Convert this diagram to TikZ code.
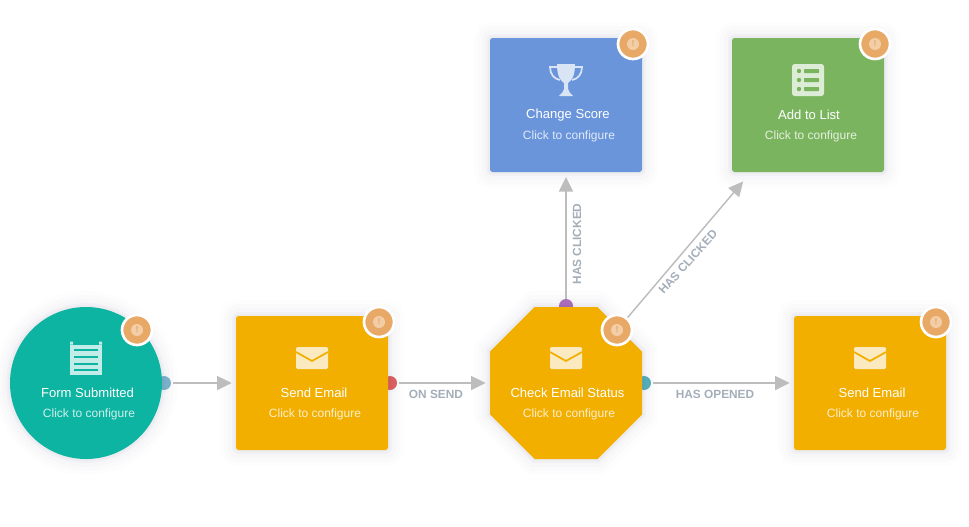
\documentclass[tikz,border=0pt]{standalone}
\usepackage{fontspec}
\setmainfont{Liberation Sans}
\usetikzlibrary{arrows.meta,shapes.geometric}
\definecolor{tealc}{HTML}{0CB4A1}
\definecolor{amberc}{HTML}{F2AF00}
\definecolor{bluec}{HTML}{6A95DB}
\definecolor{greenc}{HTML}{7BB45F}
\definecolor{badgec}{HTML}{E8A866}
\definecolor{badgein}{HTML}{F2CDA6}
\definecolor{linec}{HTML}{BDBDBD}
\definecolor{labc}{HTML}{A3AEB9}
\definecolor{shc}{HTML}{50507A}
\tikzset{
  soft/.style={
    preaction={draw=shc,draw opacity=.012,line width=24pt},
    preaction={draw=shc,draw opacity=.016,line width=18pt},
    preaction={draw=shc,draw opacity=.02,line width=12pt},
    preaction={draw=shc,draw opacity=.03,line width=6pt},
    preaction={draw=shc,draw opacity=.04,line width=3pt}},
  boxnode/.style={rectangle,rounded corners=2pt,minimum width=114pt,minimum height=100.5pt,inner sep=0pt,soft},
  roundnode/.style={circle,minimum size=114pt,inner sep=0pt,soft},
  octnode/.style={regular polygon,regular polygon sides=8,minimum size=123.4pt,inner sep=0pt,soft},
  badge/.style={circle,fill=badgec,draw=white,line width=2pt,minimum size=22.5pt,inner sep=0pt},
  badgemark/.style={circle,fill=badgein,minimum size=9pt,inner sep=0pt,text=badgec,font=\fontsize{6.5}{7}\selectfont\bfseries},
  dot/.style={circle,minimum size=10.5pt,inner sep=0pt},
  title/.style={text=white,inner sep=0pt,font=\fontsize{9.8}{11}\selectfont},
  subtitle/.style={text=white,text opacity=.8,inner sep=0pt,font=\fontsize{9}{10}\selectfont},
  conn/.style={draw=linec,line width=1.1pt,-{Triangle[length=11pt,width=10.5pt]}},
  edgelabel/.style={text=labc,inner sep=0pt,font=\fontsize{8.9}{10}\selectfont\bfseries},
  envicon/.pic={
    \fill[white,fill opacity=.75,rounded corners=1pt] (-16,-11) rectangle (16,11);
    \draw[pic actions,line width=1.3pt] (-16,-6) -- (0,3) -- (16,-6);
  },
  formicon/.pic={
    \fill[white,fill opacity=.75] (-16,-13) rectangle (16,17);
    \fill[white,fill opacity=.75] (-16,-16) rectangle (-13,-13) (13,-16) rectangle (16,-13);
    \foreach \yy in {-9,-2,5,11} \fill[pic actions] (-12,\yy) rectangle (12,\yy+2.6);
  },
  trophyicon/.pic={
    \fill[white,fill opacity=.75]
      (-9,-16) -- (9,-16) .. controls (9,-4) and (6,0) .. (2,3) -- (2,9)
      .. controls (2,12) and (5,13) .. (7,16) -- (-7,16)
      .. controls (-5,13) and (-2,12) .. (-2,9) -- (-2,3)
      .. controls (-6,0) and (-9,-4) .. (-9,-16) -- cycle;
    \draw[white,draw opacity=.75,line width=1.3pt]
      (-9,-13) -- (-16,-13) .. controls (-16,-6) and (-12,-1) .. (-6,0)
      (9,-13) -- (16,-13) .. controls (16,-6) and (12,-1) .. (6,0);
  },
  listicon/.pic={
    \fill[white,fill opacity=.75,rounded corners=2pt] (-16,-16) rectangle (16,16);
    \foreach \yy in {-9,0,9} {
      \fill[pic actions] (-9,\yy) circle (2.2);
      \fill[pic actions,rounded corners=.5pt] (-4,\yy-2) rectangle (11,\yy+2);
    }
  }
}
\begin{document}
\begin{tikzpicture}[x=0.75pt,y=-0.75pt]
\useasboundingbox (0,0) rectangle (969,526);
% port dots
\node[dot,fill=white,minimum size=15pt] (halo1) at (164,383) {};
\node[dot,fill=white,minimum size=15pt] (halo3) at (566,306) {};
\node[dot,fill=white,minimum size=15pt] (halo4) at (644,383) {};
\node[dot,fill=white,minimum size=15pt] (halo2) at (390,383) {};
\node[dot,fill={rgb,255:red,126;green,182;blue,208}] (dot1) at (164,383) {};
\node[dot,fill={rgb,255:red,226;green,96;blue,96}] (dot2) at (390,383) {};
\node[dot,fill={rgb,255:red,176;green,112;blue,190}] (dot3) at (566,306) {};
\node[dot,fill={rgb,255:red,88;green,178;blue,190}] (dot4) at (644,383) {};
% shapes
\node[roundnode,fill=tealc] (form) at (86,383) {};
\node[boxnode,fill=amberc] (send1) at (312,383) {};
\node[octnode,fill=amberc] (check) at (566,383) {};
\node[boxnode,fill=amberc] (send2) at (870,383) {};
\node[boxnode,fill=bluec] (score) at (566,105) {};
\node[boxnode,fill=greenc] (list) at (808,105) {};
% icons
\pic[fill=tealc] at (86,357.5) {formicon};
\pic[draw=amberc] at (312,358) {envicon};
\pic[draw=amberc] at (566,358) {envicon};
\pic[draw=amberc] at (870,358) {envicon};
\pic at (566,80) {trophyicon};
\pic[fill=greenc] at (808,80) {listicon};
% texts
\node[title] (t1) at (87.5,393) {Form Submitted};
\node[subtitle] (s1) at (89,414.5) {Click to configure};
\node[title] (t2) at (314,393) {Send Email};
\node[subtitle] (s2) at (315,414.5) {Click to configure};
\node[title] (t3) at (567.5,393) {Check Email Status};
\node[subtitle] (s3) at (569,414.5) {Click to configure};
\node[title] (t4) at (872,393) {Send Email};
\node[subtitle] (s4) at (873,414.5) {Click to configure};
\node[title] (t5) at (568,115) {Change Score};
\node[subtitle] (s5) at (569,136.5) {Click to configure};
\node[title] (t6) at (809,115) {Add to List};
\node[subtitle] (s6) at (811,136.5) {Click to configure};
% badges
\foreach \nm/\xx/\yy in {b1/137/330,b2/379/322,b3/617/330,b4/936/322,b5/633/44,b6/875/44}{
  \node[badge] (\nm) at (\xx,\yy) {};
  \node[badgemark] (\nm m) at (\xx,\yy) {!};
}
% connectors
\draw[conn,shorten <=1pt,shorten >=3pt] (dot1) -- (send1);
\draw[conn,shorten <=1pt,shorten >=3pt] (dot2) -- (check);
\draw[conn,shorten <=1pt,shorten >=3pt] (dot4) -- (send2);
\draw[conn,shorten >=3.5pt] (dot3) -- (score);
\draw[conn,shorten >=9pt] (b3) -- (list);
% labels
\node[edgelabel] (l1) at (436,394) {ON SEND};
\node[edgelabel] (l2) at (715,394) {HAS OPENED};
\node[edgelabel,rotate=90] (l3) at (577,244) {HAS CLICKED};
\node[edgelabel,rotate=48] (l4) at (688,262) {HAS CLICKED};
\end{tikzpicture}
\end{document}
